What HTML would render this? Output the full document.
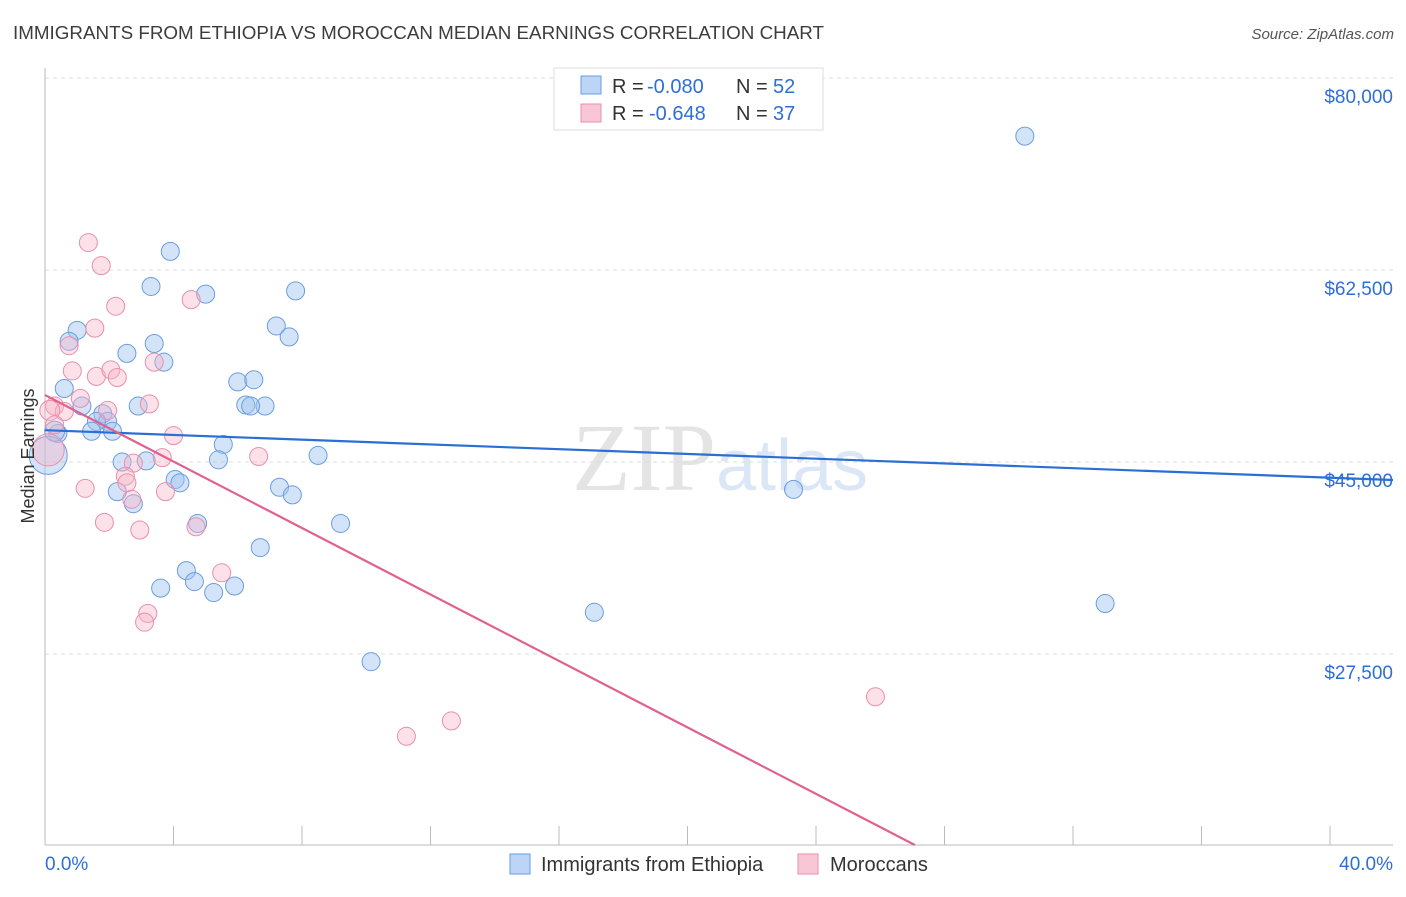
<!DOCTYPE html>
<html><head><meta charset="utf-8"><style>
body{margin:0;background:#fff;font-family:"Liberation Sans",sans-serif}
</style></head><body>
<svg id="chart" width="1406" height="892" xmlns="http://www.w3.org/2000/svg" font-family="Liberation Sans, sans-serif">
<text x="13" y="39" font-size="18" fill="#3c3c3c" textLength="811" lengthAdjust="spacingAndGlyphs">IMMIGRANTS FROM ETHIOPIA VS MOROCCAN MEDIAN EARNINGS CORRELATION CHART</text>
<text x="1394" y="39" font-size="15" fill="#555" text-anchor="end" font-style="italic">Source: ZipAtlas.com</text>
<text x="720" y="490" font-size="96" text-anchor="middle" fill="#e4e4e4" font-family="Liberation Serif, serif">ZIP<tspan fill="#dbe6f6" font-family="Liberation Sans, sans-serif" font-size="72">atlas</tspan></text>
<g id="grid"></g><g id="axes"></g><g id="pts"></g><g id="lines"></g>
<text transform="translate(34,456) rotate(-90)" font-size="18" fill="#333" text-anchor="middle">Median Earnings</text>
<g>
<rect x="554" y="68" width="269" height="62" fill="#fff" stroke="#ddd"/>
<rect x="581" y="76" width="20" height="18" fill="#bcd4f6" stroke="#6a9de0"/>
<rect x="581" y="104" width="20" height="18" fill="#f9c6d6" stroke="#e98fac"/>
<text y="93" font-size="20" fill="#333"><tspan x="612">R =</tspan><tspan x="647" fill="#2e6fd6">-0.080</tspan><tspan x="736">N =</tspan><tspan x="773" fill="#2e6fd6">52</tspan></text>
<text y="120" font-size="20" fill="#333"><tspan x="612">R =</tspan><tspan x="649" fill="#2e6fd6">-0.648</tspan><tspan x="736">N =</tspan><tspan x="773" fill="#2e6fd6">37</tspan></text>
</g>
<g>
<rect x="510" y="854" width="20" height="20" fill="#bcd4f6" stroke="#6a9de0"/>
<text x="541" y="871" font-size="20" fill="#333">Immigrants from Ethiopia</text>
<rect x="798" y="854" width="20" height="20" fill="#f9c6d6" stroke="#e98fac"/>
<text x="830" y="871" font-size="20" fill="#333">Moroccans</text>
</g>
</svg>
<script>
const yTicks=[27500,45000,62500,80000];
const yTickLabels=["$27,500","$45,000","$62,500","$80,000"];
const xTickLabels=["0.0%","40.0%"];
const ethX=[30.5,3.9,3.3,5.0,7.8,1.0,7.2,7.6,0.75,3.4,2.55,3.7,6.0,6.5,0.6,6.25,6.85,2.9,6.4,1.15,1.8,1.95,1.6,1.45,2.1,0.4,5.55,8.5,5.4,2.4,3.15,4.05,4.2,7.3,7.7,2.25,2.75,23.3,4.75,9.2,6.7,4.4,4.65,3.6,5.25,5.9,17.1,33.0,10.15,0.1,0.3];
const ethY=[74700,64200,61000,60300,60600,57000,57400,56400,56000,55800,54900,54100,52300,52500,51700,50200,50100,50100,50100,50100,49400,48700,48700,47800,47800,47600,46600,45600,45200,45000,45100,43400,43100,42700,42000,42300,41200,42500,39400,39400,37200,35100,34100,33500,33100,33700,31300,32100,26800,45600,47800];
const ethR=[9,9,9,9,9,9,9,9,9,9,9,9,9,9,9,9,9,9,9,9,9,9,9,9,9,9,9,9,9,9,9,9,9,9,9,9,9,9,9,9,9,9,9,9,9,9,9,9,9,19,10];
const morX=[1.35,1.75,2.2,4.55,1.55,0.75,0.85,1.6,2.05,2.25,3.4,3.25,1.1,0.3,0.6,1.95,4.0,3.65,6.65,2.75,2.5,2.55,1.25,3.75,2.7,1.85,2.95,4.7,5.5,3.2,3.1,11.25,12.65,25.85,0.1,0.15,0.3];
const morY=[65000,62900,59200,59800,57200,55600,53300,52800,53400,52700,54100,50300,50800,50100,49600,49700,47400,45400,45500,44900,43700,43100,42600,42300,41600,39500,38800,39100,34900,31200,30400,20000,21400,23600,46100,49700,48400];
const morR=[9,9,9,9,9,9,9,9,9,9,9,9,9,9,9,9,9,9,9,9,9,9,9,9,9,9,9,9,9,9,9,9,9,9,16,10,9];
const ethLine=[47900,43570];
const morLine=[51100,-1514.5];
const NS="http://www.w3.org/2000/svg";
const X=v=>45+v*32.125, Y=v=>78+(80000-v)/91.146;
function mk(t,a,p){const e=document.createElementNS(NS,t);for(const k in a)e.setAttribute(k,a[k]);document.getElementById(p).appendChild(e);return e;}
yTicks.forEach((t,i)=>{
 const g=mk('line',{x1:45,x2:1393,y1:Y(t),y2:Y(t),stroke:'#ddd','stroke-dasharray':'4,4'},'grid');
 
 
 const l=mk('text',{x:1393,y:Y(t)+25,'font-size':19,fill:'#2e6fd6','text-anchor':'end'},'axes');
 l.textContent=yTickLabels[i];
 
 
});
const ax=mk('line',{x1:45,x2:45,y1:68,y2:845,stroke:'#bbb'},'axes');


const bx=mk('line',{x1:45,x2:1393,y1:845,y2:845,stroke:'#bbb'},'axes');


for(let i=0;i<=10;i++){const t=mk('line',{x1:X(i*4),x2:X(i*4),y1:826,y2:845,stroke:'#bbb'},'axes');
 
 }
[[0,45,'start'],[40,1393,'end']].forEach((d,i)=>{const t=mk('text',{x:d[1],y:870,'font-size':19,fill:'#2e6fd6','text-anchor':d[2]},'axes');t.textContent=xTickLabels[i];
 
 });
ethX.forEach((x,i)=>{const c=mk('circle',{cx:X(x),cy:Y(ethY[i]),r:ethR[i],fill:'rgba(160,195,240,0.45)',stroke:'#6a9de0','stroke-width':1},'pts');
 
 });
morX.forEach((x,i)=>{const c=mk('circle',{cx:X(x),cy:Y(morY[i]),r:morR[i],fill:'rgba(248,180,200,0.4)',stroke:'#e98fac','stroke-width':1},'pts');
 
 });
const xr=(1393-45)/32.125;
const bl=mk('line',{x1:X(0),y1:Y(ethLine[0]),x2:X(xr),y2:Y(ethLine[0]+(ethLine[1]-ethLine[0])/40*xr),stroke:'#2a6fd4','stroke-width':2.2},'lines');


const xe=(10094-morLine[0])/morLine[1];
const pl=mk('line',{x1:X(0),y1:Y(morLine[0]),x2:X(xe),y2:Y(morLine[0]+morLine[1]*xe),stroke:'#e0608e','stroke-width':2.2},'lines');


</script>
</body></html>
